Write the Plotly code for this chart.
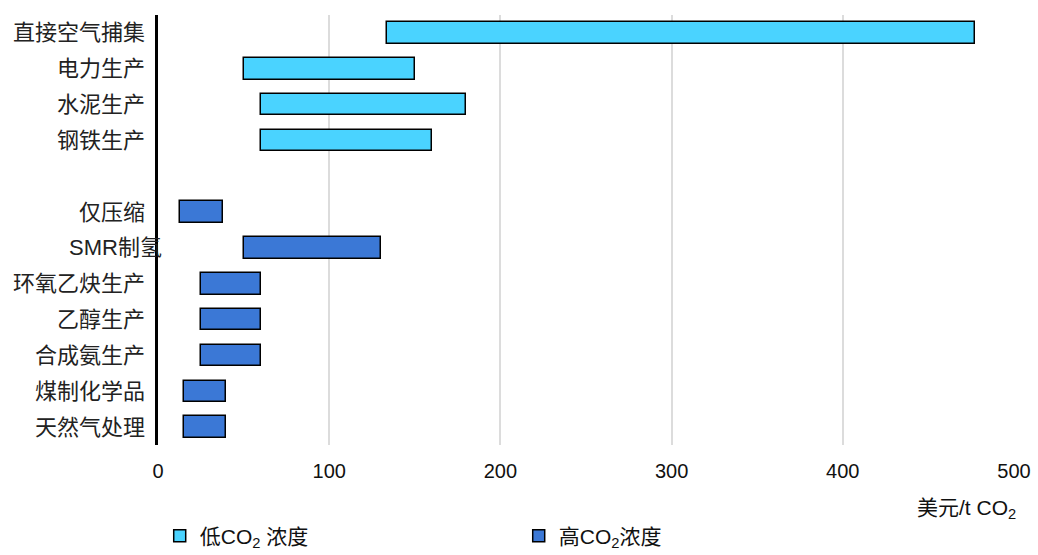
import plotly.graph_objects as go

# CO2 capture cost ranges (USD per tonne CO2)
low_labels = ["直接空气捕集", "电力生产", "水泥生产", "钢铁生产"]
low_min = [134, 50, 60, 60]
low_max = [477, 150, 180, 160]

high_labels = ["仅压缩", "SMR制氢", "环氧乙炔生产", "乙醇生产", "合成氨生产", "煤制化学品", "天然气处理"]
high_min = [13, 50, 25, 25, 25, 15, 15]
high_max = [38, 130, 60, 60, 60, 40, 40]

x_ticks = [0, 100, 200, 300, 400, 500]

FONT = "Liberation Sans, Arial, Noto Sans CJK SC, sans-serif"
LOW_COLOR = "#4AD3FF"
HIGH_COLOR = "#3B78D6"

# row slots, top to bottom, with an empty slot between the two groups
low_pos = list(range(len(low_labels)))
high_pos = [len(low_labels) + 1 + i for i in range(len(high_labels))]

fig = go.Figure()
fig.add_trace(go.Bar(
    y=low_pos, x=[b - a for a, b in zip(low_min, low_max)], base=low_min,
    orientation="h", width=0.6, name="低CO<sub>2</sub> 浓度",
    marker=dict(color=LOW_COLOR, line=dict(color="black", width=1.5)),
))
fig.add_trace(go.Bar(
    y=high_pos, x=[b - a for a, b in zip(high_min, high_max)], base=high_min,
    orientation="h", width=0.6, name="高CO<sub>2</sub>浓度",
    marker=dict(color=HIGH_COLOR, line=dict(color="black", width=1.5)),
))

# category labels left of the axis
for lab, pos in zip(low_labels + high_labels, low_pos + high_pos):
    fig.add_annotation(
        x=0, y=pos, xref="x", yref="y", text=lab, showarrow=False,
        xanchor="right", yanchor="middle",
        xshift=6 if lab.startswith("SMR") else -11,
        font=dict(family=FONT, size=22, color="#222"),
    )

# x-axis unit label, bottom right
fig.add_annotation(
    x=1, y=-0.148, xref="paper", yref="paper", text="美元/t CO<sub>2</sub>",
    showarrow=False, xanchor="right", yanchor="middle", xshift=4,
    font=dict(family=FONT, size=21, color="#111"),
)

fig.update_layout(
    width=1038, height=555,
    margin=dict(l=158, r=24, t=15, b=110, autoexpand=False),
    plot_bgcolor="white", paper_bgcolor="white",
    barmode="overlay", bargap=0,
    showlegend=True,
    legend=dict(
        orientation="h", x=0.002, xanchor="left",
        y=-0.212, yanchor="middle",
        entrywidth=314, entrywidthmode="pixels",
        font=dict(family=FONT, size=21, color="#111"),
        traceorder="normal",
    ),
    xaxis=dict(
        range=[0, 500], tickvals=x_ticks, ticktext=[str(v) for v in x_ticks],
        showgrid=True, gridcolor="#DCDCDC", gridwidth=2,
        zeroline=False, showline=False, ticks="",
        ticklabelstandoff=12,
        tickfont=dict(family=FONT, size=20, color="#111"),
    ),
    yaxis=dict(
        range=[11.5, -0.5], showticklabels=False, showgrid=False,
        zeroline=False, showline=True, linecolor="black", linewidth=2.5,
        ticks="",
    ),
)

fig.write_html("out.html")
